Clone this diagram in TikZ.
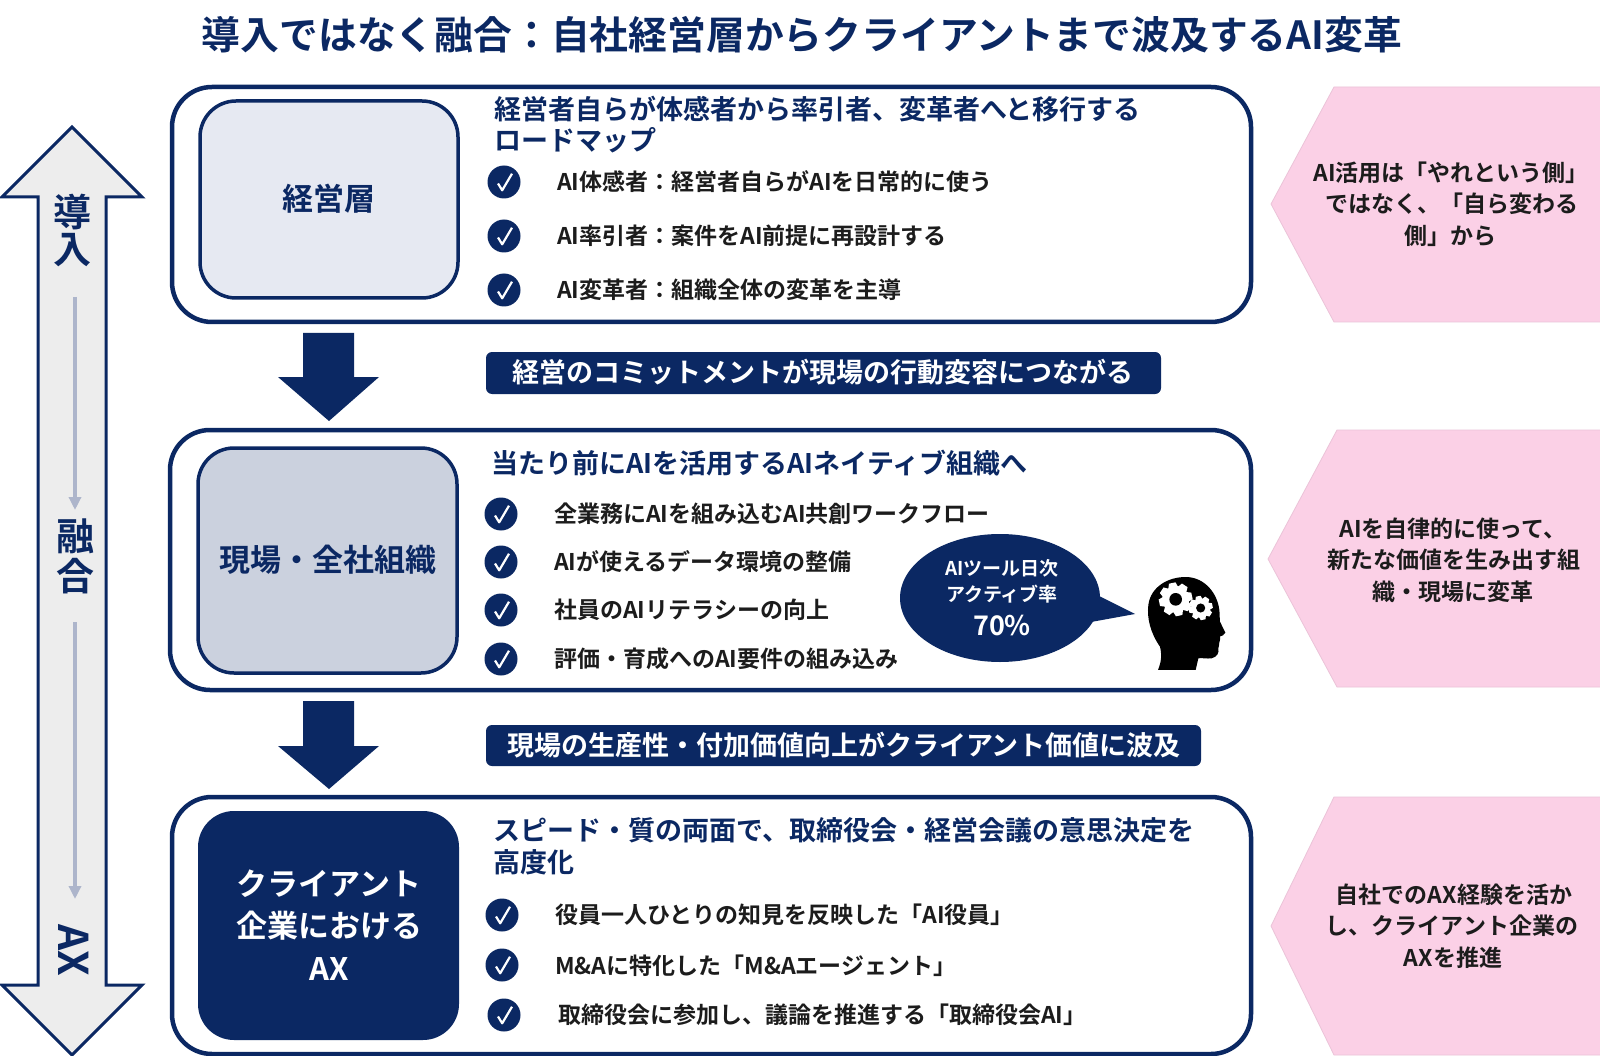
\documentclass[tikz,border=0pt]{standalone}
\usepackage{fontspec}
\setmainfont{Noto Sans CJK JP}[BoldFont={Noto Sans CJK JP Bold}]
\usetikzlibrary{arrows.meta}
\definecolor{navy}{HTML}{0B2863}
\definecolor{inkdark}{HTML}{1C1C1C}
\definecolor{paleA}{HTML}{E6E9F2}
\definecolor{paleB}{HTML}{CBD1DE}
\definecolor{pinkf}{HTML}{FBD0E6}
\definecolor{pinkd}{HTML}{EBC3D8}
\definecolor{greyf}{HTML}{EDEDED}
\definecolor{greyl}{HTML}{ADB5CB}
\newcommand{\pxf}[1]{\fontsize{#1pt}{#1pt}\selectfont\bfseries}
\newcommand{\chkmark}[3]{%
  \node[chkdot] (#3) at (#1,#2) {};
  \draw[chkline] ([shift={(-6,1.5)}]#3.center) -- ([shift={(-1.8,8.3)}]#3.center) -- ([shift={(8,-8.3)}]#3.center);
}
\newcommand{\gearshape}[3]{%
  \foreach \a in {0,45,...,315}{
    \fill[white,shift={(#1,#2)},rotate=\a+12] (-0.3*#3,0.7*#3) -- (-0.2*#3,#3) -- (0.2*#3,#3) -- (0.3*#3,0.7*#3) -- cycle;
  }
  \fill[white] (#1,#2) circle[radius=0.8*#3];
  \fill[black] (#1,#2) circle[radius=0.38*#3];
}
\tikzset{
  outerbox/.style={draw=navy,line width=4.5pt,fill=white,rounded corners=40pt},
  innerbox/.style={draw=navy,line width=3.5pt,rounded corners=36pt},
  fatarrow/.style={fill=navy},
  sidearrow/.style={draw=navy,line width=3pt,fill=greyf,line join=miter},
  thinarrow/.style={draw=greyl,line width=4pt,-{Triangle[length=13pt,width=12pt]}},
  pinkbox/.style={fill=pinkf,draw=pinkd,line width=0.8pt},
  pill/.style={fill=navy,rounded corners=6pt},
  titletxt/.style={inner sep=0,text=navy,font=\pxf{38.8}},
  headtxt/.style={inner sep=0,anchor=west,text=navy,font=\pxf{27}},
  itemtxt/.style={inner sep=0,anchor=west,text=inkdark,font=\pxf{23}},
  labeltxt/.style={inner sep=0,text=navy,font=\pxf{31}},
  pilltxt/.style={inner sep=0,text=white,font=\pxf{27}},
  sidetxt/.style={inner sep=0,text=navy,font=\pxf{38}},
  pinktxt/.style={inner sep=0,text=inkdark,font=\pxf{23}},
  chkdot/.style={circle,fill=navy,minimum size=33pt,inner sep=0},
  chkline/.style={draw=white,line width=2.2pt,line join=round},
}
\begin{document}
\begin{tikzpicture}[x=1pt,y=-1pt]
\useasboundingbox (0,0) rectangle (1600,1056);
\fill[white] (0,0) rectangle (1600,1056);

% title
\node[titletxt] (title) at (802,35) {導入ではなく融合：自社経営層からクライアントまで波及するAI変革};

% side double arrow
\draw[sidearrow] (72,127) -- (142,197) -- (106,197) -- (106,985) -- (142,985) -- (72,1055) -- (2,985) -- (38,985) -- (38,197) -- (2,197) -- cycle;
\node[sidetxt] (sa) at (72,212) {導};
\node[sidetxt] (sb) at (72,250) {入};
\node[sidetxt] (sc) at (75,536) {融};
\node[sidetxt] (sd) at (75,576) {合};
\node[sidetxt,rotate=-90,font=\pxf{41}] (se) at (74,950) {AX};
\coordinate (la) at (75,297);
\coordinate (lb) at (75,510);
\coordinate (lc) at (75,622);
\coordinate (ld) at (75,899);
\draw[thinarrow] (la) -- (lb);
\draw[thinarrow] (lc) -- (ld);

% pink pentagons
\path[pinkbox] (1600,87) -- (1334,87) -- (1271,204) -- (1334,322) -- (1600,322);
\path[pinkbox] (1600,430) -- (1337,430) -- (1268,559) -- (1337,687) -- (1600,687);
\path[pinkbox] (1600,797) -- (1334,797) -- (1271,926) -- (1334,1055) -- (1600,1055);
\node[pinktxt] (p1a) at (1451,173) {AI活用は「やれという側」};
\node[pinktxt] (p1b) at (1452,204) {ではなく、「自ら変わる};
\node[pinktxt] (p1c) at (1450,236) {側」から};
\node[pinktxt] (p2a) at (1453,529) {AIを自律的に使って、};
\node[pinktxt] (p2b) at (1454,560) {新たな価値を生み出す組};
\node[pinktxt] (p2c) at (1453,592) {織・現場に変革};
\node[pinktxt] (p3a) at (1454,895) {自社でのAX経験を活か};
\node[pinktxt] (p3b) at (1452,926) {し、クライアント企業の};
\node[pinktxt] (p3c) at (1453,958) {AXを推進};

% box 1
\draw[outerbox] (172,87) rectangle (1251,322);
\draw[innerbox,fill=paleA] (200,101) rectangle (458,298);
\node[labeltxt] (l1) at (329,199) {経営層};
\node[headtxt] (h1a) at (494,109) {経営者自らが体感者から率引者、変革者へと移行する};
\node[headtxt] (h1b) at (494,140) {ロードマップ};
\chkmark{504}{182}{c1a}
\chkmark{504}{236}{c1b}
\chkmark{504}{290}{c1c}
\node[itemtxt] (i1a) at (557,182) {AI体感者：経営者自らがAIを日常的に使う};
\node[itemtxt] (i1b) at (557,236) {AI率引者：案件をAI前提に再設計する};
\node[itemtxt] (i1c) at (557,290) {AI変革者：組織全体の変革を主導};

% arrow 1 and pill 1
\fill[fatarrow] (303,333) -- (354,333) -- (354,377) -- (379,377) -- (329,421) -- (278,377) -- (303,377) -- cycle;
\path[pill] (486,352) rectangle (1161,394);
\node[pilltxt] (m1) at (823,372) {経営のコミットメントが現場の行動変容につながる};

% box 2
\draw[outerbox] (170,430) rectangle (1251,690);
\draw[innerbox,fill=paleB] (198,448) rectangle (457,673);
\node[labeltxt] (l2) at (328,560) {現場・全社組織};
\node[headtxt] (h2) at (491,463) {当たり前にAIを活用するAIネイティブ組織へ};
\chkmark{501}{514}{c2a}
\chkmark{501}{562}{c2b}
\chkmark{501}{610}{c2c}
\chkmark{501}{659}{c2d}
\node[itemtxt] (i2a) at (554,514) {全業務にAIを組み込むAI共創ワークフロー};
\node[itemtxt] (i2b) at (554,562) {AIが使えるデータ環境の整備};
\node[itemtxt] (i2c) at (554,610) {社員のAIリテラシーの向上};
\node[itemtxt] (i2d) at (554,659) {評価・育成へのAI要件の組み込み};

% bubble
\fill[navy] (1099,596) -- (1135,614) -- (1091,622) -- cycle;
\fill[navy] (1000,598) ellipse[x radius=100,y radius=64];
\node[inner sep=0,text=white,font=\pxf{19}] (b1) at (1002,568) {AIツール日次};
\node[inner sep=0,text=white,font=\pxf{19}] (b2) at (1002,594) {アクティブ率};
\node[inner sep=0,text=white,font=\pxf{27}] (b3) at (1002,626) {70\%};

% head
\begin{scope}[shift={(1130,565)},x=0.3333pt,y=-0.3333pt]
\fill[black] (84,315) .. controls (96,285) and (95,265) .. (90,245)
  .. controls (62,205) and (50,160) .. (55,120)
  .. controls (62,65) and (115,35) .. (170,36)
  .. controls (225,38) and (262,85) .. (268,135)
  .. controls (270,150) and (268,160) .. (270,170)
  -- (286,203) .. controls (284,212) and (274,212) .. (270,214)
  .. controls (272,225) and (268,228) .. (268,232)
  .. controls (270,240) and (264,245) .. (265,250)
  .. controls (268,262) and (262,276) .. (245,280)
  .. controls (230,282) and (215,278) .. (205,280)
  -- (197,315) -- cycle;
\gearshape{137}{103}{50}
\gearshape{212}{129}{36}
\end{scope}

% arrow 2 and pill 2
\fill[fatarrow] (303,701) -- (354,701) -- (354,746) -- (379,746) -- (329,789) -- (278,746) -- (303,746) -- cycle;
\path[pill] (486,725) rectangle (1201,766);
\node[pilltxt] (m2) at (844,745) {現場の生産性・付加価値向上がクライアント価値に波及};

% box 3
\draw[outerbox] (172,797) rectangle (1251,1054);
\fill[navy,rounded corners=36pt] (198,811) rectangle (459,1040);
\node[labeltxt,text=white] (l3a) at (329,884) {クライアント};
\node[labeltxt,text=white] (l3b) at (329,926) {企業における};
\node[labeltxt,text=white] (l3c) at (329,969) {AX};
\node[headtxt] (h3a) at (493,830) {スピード・質の両面で、取締役会・経営会議の意思決定を};
\node[headtxt] (h3b) at (493,862) {高度化};
\chkmark{502}{915}{c3a}
\chkmark{502}{965}{c3b}
\chkmark{504}{1015}{c3c}
\node[itemtxt] (i3a) at (555,915) {役員一人ひとりの知見を反映した「AI役員」};
\node[itemtxt] (i3b) at (555,966) {M\&Aに特化した「M\&Aエージェント」};
\node[itemtxt] (i3c) at (558,1015) {取締役会に参加し、議論を推進する「取締役会AI」};
\end{tikzpicture}
\end{document}
